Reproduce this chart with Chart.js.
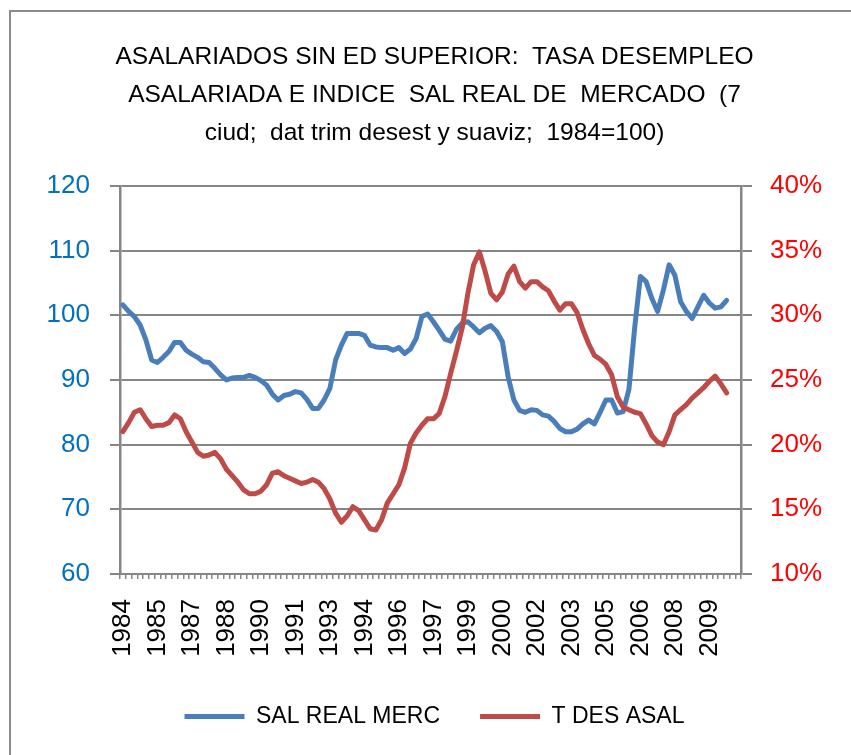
<!DOCTYPE html>
<html>
<head>
<meta charset="utf-8">
<script src="https://cdn.jsdelivr.net/npm/chart.js@4.4.1/dist/chart.umd.min.js"></script>
<style>
html, body { margin: 0; padding: 0; background: #fff; overflow: hidden; }
#frame { position: absolute; left: 9px; top: 10px; width: 1000px; height: 1000px;
         border-left: 2px solid #8a8a8a; border-top: 2px solid #8a8a8a; }
#wrap { position: absolute; left: 0; top: 0; width: 851px; height: 755px; }
</style>
</head>
<body>
<div id="frame"></div>
<div id="wrap"><canvas id="myChart" width="851" height="755"></canvas></div>
<script>
// quarterly, 1984-I .. 2010-II (axis runs to 2010-IV)
const firstYear = 1984;
const lastYear = 2010;

const titleLines = [
  'ASALARIADOS SIN ED SUPERIOR:  TASA DESEMPLEO',
  'ASALARIADA E INDICE  SAL REAL DE  MERCADO  (7',
  'ciud;  dat trim desest y suaviz;  1984=100)'
];

// indice salario real de mercado (1984=100), eje izquierdo
const salRealMerc = [
  101.6, 100.6, 99.8, 98.5, 96.2, 93.1, 92.7, 93.5, 94.4, 95.8,
  95.8, 94.6, 94.0, 93.5, 92.8, 92.7, 91.8, 90.8, 90.0, 90.3,
  90.4, 90.4, 90.7, 90.4, 89.9, 89.2, 87.8, 86.9, 87.6, 87.8,
  88.2, 88.0, 87.0, 85.6, 85.6, 86.9, 88.7, 93.1, 95.4, 97.2,
  97.2, 97.2, 96.9, 95.4, 95.1, 95.0, 95.0, 94.6, 95.0, 94.1,
  94.8, 96.4, 99.8, 100.2, 99.0, 97.7, 96.3, 96.0, 97.8, 98.8,
  99.0, 98.2, 97.3, 98.0, 98.4, 97.5, 95.9, 90.5, 86.9, 85.3,
  85.0, 85.4, 85.3, 84.6, 84.4, 83.6, 82.5, 82.0, 82.0, 82.4,
  83.2, 83.8, 83.2, 85.0, 86.9, 86.9, 84.9, 85.1, 88.5, 98.0,
  106.0, 105.2, 102.6, 100.6, 103.9, 107.8, 106.2, 102.1, 100.6, 99.5,
  101.3, 103.1, 101.9, 101.1, 101.3, 102.3
];

// tasa de desempleo asalariada (%), eje derecho
const tDesAsal = [
  21.0, 21.7, 22.5, 22.7, 22.0, 21.4, 21.5, 21.5, 21.7, 22.3,
  22.0, 21.0, 20.2, 19.4, 19.1, 19.2, 19.4, 18.9, 18.1, 17.6,
  17.1, 16.5, 16.2, 16.2, 16.4, 16.9, 17.8, 17.9, 17.6, 17.4,
  17.2, 17.0, 17.1, 17.3, 17.1, 16.6, 15.8, 14.7, 14.0, 14.5,
  15.2, 14.9, 14.2, 13.5, 13.4, 14.2, 15.5, 16.2, 16.9, 18.2,
  20.1, 20.9, 21.5, 22.0, 22.0, 22.4, 23.7, 25.5, 27.2, 29.0,
  31.7, 33.9, 34.9, 33.4, 31.7, 31.2, 31.8, 33.2, 33.8, 32.6,
  32.1, 32.6, 32.6, 32.2, 31.9, 31.1, 30.4, 30.9, 30.9, 30.2,
  28.9, 27.8, 26.9, 26.6, 26.2, 25.4, 23.7, 22.9, 22.7, 22.5,
  22.4, 21.6, 20.7, 20.2, 20.0, 21.0, 22.3, 22.7, 23.1, 23.6,
  24.0, 24.4, 24.9, 25.3, 24.7, 24.0
];

const categories = [];
for (let y = firstYear; y <= lastYear; y++) {
  for (let q = 1; q <= 4; q++) categories.push(String(y));
}

const BLUE = '#4A7EBB';
const RED = '#BE4B48';
const GRID = '#868686';
const FONT = "'Liberation Sans', Arial, sans-serif";

const ctx = document.getElementById('myChart').getContext('2d');
new Chart(ctx, {
  type: 'line',
  data: {
    labels: categories,
    datasets: [{
      label: 'SAL REAL MERC',
      data: salRealMerc,
      yAxisID: 'y',
      borderColor: BLUE,
      backgroundColor: BLUE,
      borderWidth: 5,
      pointRadius: 0,
      tension: 0,
      borderJoinStyle: 'round',
      borderCapStyle: 'round',
      order: 1
    }, {
      label: 'T DES ASAL',
      data: tDesAsal,
      yAxisID: 'y1',
      borderColor: RED,
      backgroundColor: RED,
      borderWidth: 5,
      pointRadius: 0,
      tension: 0,
      borderJoinStyle: 'round',
      borderCapStyle: 'round',
      order: 0
    }]
  },
  options: {
    responsive: false,
    animation: false,
    layout: { padding: { left: 18, right: 0, top: 0, bottom: 17 } },
    plugins: {
      title: {
        display: true,
        text: titleLines,
        color: '#000',
        font: { family: FONT, size: 24.5, weight: 'normal', lineHeight: 1.55 },
        padding: { top: 38, bottom: 34 }
      },
      legend: {
        position: 'bottom',
        labels: {
          boxWidth: 60,
          boxHeight: 5,
          padding: 40,
          color: '#000',
          font: { family: FONT, size: 23 },
          sort: (a, b) => a.datasetIndex - b.datasetIndex,
          generateLabels: (chart) => {
            const items = Chart.defaults.plugins.legend.labels.generateLabels(chart);
            items.forEach(it => { it.lineWidth = 0; it.fillStyle = it.strokeStyle; });
            return items;
          }
        }
      },
      tooltip: { enabled: false }
    },
    scales: {
      x: {
        offset: true,
        grid: { offset: true, drawOnChartArea: false, drawTicks: true, tickLength: 5, color: GRID, lineWidth: 1.5 },
        border: { display: true, color: GRID, width: 2 },
        ticks: {
          autoSkip: false, maxRotation: 90, minRotation: 90, padding: 20,
          color: '#000', font: { family: FONT, size: 26 },
          callback: (v, i) => (i % 6 === 0 ? categories[i] : '')
        },
        afterFit: (s) => { s.height = 91; }
      },
      y: {
        position: 'left',
        min: 60, max: 120,
        ticks: { stepSize: 10, color: '#0070C0', font: { family: FONT, size: 26 }, padding: 20 },
        grid: { color: GRID, lineWidth: 2, tickLength: 10 },
        border: { display: true, color: GRID, width: 2.5 },
        afterFit: (s) => { s.width = 102; }
      },
      y1: {
        position: 'right',
        min: 10, max: 40,
        ticks: { stepSize: 5, color: '#FF0000', font: { family: FONT, size: 26 }, padding: 18,
                 callback: (v) => v + '%' },
        grid: { drawOnChartArea: false, color: GRID, lineWidth: 2, tickLength: 11 },
        border: { display: true, color: GRID, width: 2.5 },
        afterFit: (s) => { s.width = 110; }
      }
    }
  }
});
</script>
</body>
</html>
